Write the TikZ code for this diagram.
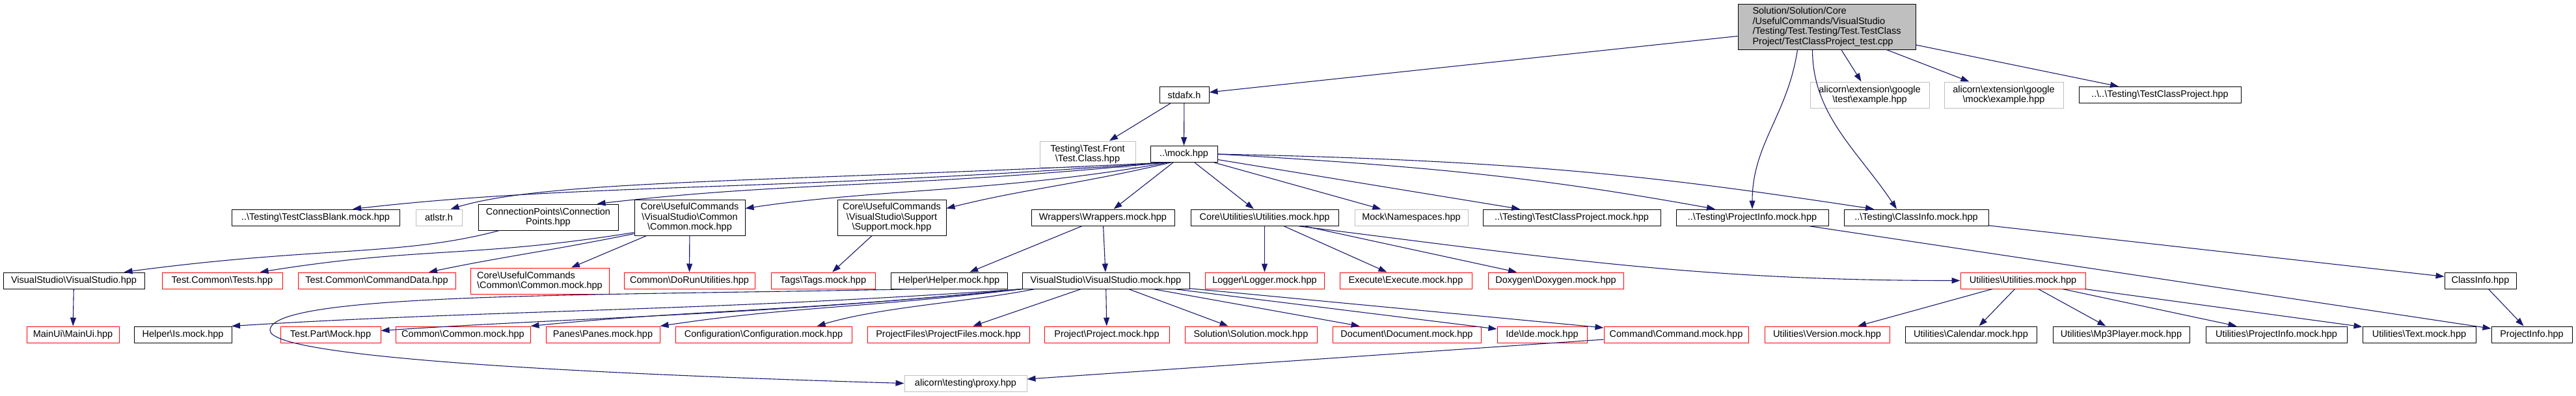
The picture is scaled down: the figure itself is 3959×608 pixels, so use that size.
\documentclass[tikz,border=0pt]{standalone}
\usepackage{fontspec}
\setmainfont{Liberation Sans}
\usetikzlibrary{arrows.meta}
\newcommand{\bs}{\textbackslash}
\begin{document}
\begin{tikzpicture}[x=1pt,y=-1pt,
  file/.style={draw=black,fill=white,line width=1pt,inner sep=0pt,align=center,
    minimum height=25,font=\fontsize{14.5}{15.5}\selectfont},
  redfile/.style={file,draw=fileRed},
  grayfile/.style={file,draw=fileGray},
  wd/.style={minimum width=#1},
  dep/.style={draw=edgeBlue,line width=1.1pt,-{Triangle[length=13pt,width=9pt]}}]
\definecolor{edgeBlue}{HTML}{191970}
\definecolor{fileRed}{HTML}{FF0000}
\definecolor{fileGray}{HTML}{BFBFBF}
\useasboundingbox (0,0) rectangle (3959,608);
\node[file,fill=fileGray,align=left,wd=273,minimum height=70] (root) at (2807.5,41)
  {Solution/Solution/Core\\/UsefulCommands/VisualStudio\\/Testing/Test.Testing/Test.TestClass\\Project/TestClassProject\_test.cpp};
\node[file,wd=76] (stdafx) at (1820,146) {stdafx.h};
\node[grayfile,wd=183,minimum height=40] (gtest) at (2873.5,146) {alicorn\bs extension\bs google\\\bs test\bs example.hpp};
\node[grayfile,wd=183,minimum height=40] (gmock) at (3079.5,146) {alicorn\bs extension\bs google\\\bs mock\bs example.hpp};
\node[file,wd=249] (tcphpp) at (3319.5,146) {..\bs..\bs Testing\bs TestClassProject.hpp};
\node[grayfile,wd=147,minimum height=40] (front) at (1671.5,237) {Testing\bs Test.Front\\\bs Test.Class.hpp};
\node[file,wd=103] (mock) at (1819.5,237) {..\bs mock.hpp};
\node[file,wd=258] (blank) at (485,334.5) {..\bs Testing\bs TestClassBlank.mock.hpp};
\node[grayfile,wd=71] (atlstr) at (674.5,334.5) {atlstr.h};
\node[file,wd=215,minimum height=40] (connpts) at (842.5,334) {ConnectionPoints\bs Connection\\Points.hpp};
\node[file,wd=170,minimum height=55] (vscommon) at (1060,334.5) {Core\bs UsefulCommands\\\bs VisualStudio\bs Common\\\bs Common.mock.hpp};
\node[file,wd=167,minimum height=55] (support) at (1370.5,334.5) {Core\bs UsefulCommands\\\bs VisualStudio\bs Support\\\bs Support.mock.hpp};
\node[file,wd=220] (wrappers) at (1695,334.5) {Wrappers\bs Wrappers.mock.hpp};
\node[file,wd=227] (coreutil) at (1943.5,334.5) {Core\bs Utilities\bs Utilities.mock.hpp};
\node[grayfile,wd=174] (namespaces) at (2169,334.5) {Mock\bs Namespaces.hpp};
\node[file,wd=273] (tcpmock) at (2415.5,334.5) {..\bs Testing\bs TestClassProject.mock.hpp};
\node[file,wd=234] (pimock) at (2693,334.5) {..\bs Testing\bs ProjectInfo.mock.hpp};
\node[file,wd=222] (cimock) at (2945,334.5) {..\bs Testing\bs ClassInfo.mock.hpp};
\node[file,wd=217] (vshpp) at (113.5,431.5) {VisualStudio\bs VisualStudio.hpp};
\node[redfile,wd=185] (tests) at (341.5,431.5) {Test.Common\bs Tests.hpp};
\node[redfile,wd=242] (cmddata) at (579,431.5) {Test.Common\bs CommandData.hpp};
\node[redfile,wd=213,minimum height=40,align=left] (uccommon) at (829.5,432) {Core\bs UsefulCommands\\\bs Common\bs Common.mock.hpp};
\node[redfile,wd=201] (dorun) at (1059.5,431.5) {Common\bs DoRunUtilities.hpp};
\node[redfile,wd=160] (tags) at (1265,431.5) {Tags\bs Tags.mock.hpp};
\node[file,wd=179] (helper) at (1458.5,431.5) {Helper\bs Helper.mock.hpp};
\node[file,wd=257] (vsmock) at (1699.5,431.5) {VisualStudio\bs VisualStudio.mock.hpp};
\node[redfile,wd=183] (logger) at (1943.5,431.5) {Logger\bs Logger.mock.hpp};
\node[redfile,wd=203] (execute) at (2160.5,431.5) {Execute\bs Execute.mock.hpp};
\node[redfile,wd=208] (doxygen) at (2391,431.5) {Doxygen\bs Doxygen.mock.hpp};
\node[redfile,wd=192] (utilmock) at (3109,431.5) {Utilities\bs Utilities.mock.hpp};
\node[file,wd=110] (classinfo) at (3812,431.5) {ClassInfo.hpp};
\node[redfile,wd=142] (mainui) at (112,514.5) {MainUi\bs MainUi.hpp};
\node[file,wd=150] (ismock) at (281,514.5) {Helper\bs Is.mock.hpp};
\node[redfile,wd=154] (testpart) at (508,514.5) {Test.Part\bs Mock.hpp};
\node[redfile,wd=207] (common) at (711.5,514.5) {Common\bs Common.mock.hpp};
\node[redfile,wd=175] (panes) at (926.5,514.5) {Panes\bs Panes.mock.hpp};
\node[redfile,wd=271] (config) at (1173.5,514.5) {Configuration\bs Configuration.mock.hpp};
\node[redfile,wd=249] (projfiles) at (1457.5,514.5) {ProjectFiles\bs ProjectFiles.mock.hpp};
\node[redfile,wd=192] (project) at (1701,514.5) {Project\bs Project.mock.hpp};
\node[redfile,wd=203] (solution) at (1922.5,514.5) {Solution\bs Solution.mock.hpp};
\node[redfile,wd=228] (document) at (2162,514.5) {Document\bs Document.mock.hpp};
\node[redfile,wd=138] (ide) at (2370,514.5) {Ide\bs Ide.mock.hpp};
\node[redfile,wd=222] (command) at (2576,514.5) {Command\bs Command.mock.hpp};
\node[redfile,wd=192] (version) at (2808,514.5) {Utilities\bs Version.mock.hpp};
\node[file,wd=202] (calendar) at (3029,514.5) {Utilities\bs Calendar.mock.hpp};
\node[file,wd=210] (mp3) at (3260,514.5) {Utilities\bs Mp3Player.mock.hpp};
\node[file,wd=217] (uprojinfo) at (3498.5,514.5) {Utilities\bs ProjectInfo.mock.hpp};
\node[file,wd=174] (text) at (3718,514.5) {Utilities\bs Text.mock.hpp};
\node[file,wd=124] (projinfo) at (3891,514.5) {ProjectInfo.hpp};
\node[grayfile,wd=188] (proxy) at (1484,589.5) {alicorn\bs testing\bs proxy.hpp};
\draw[dep] (root) -- (stdafx);
\draw[dep] (root) -- (gtest);
\draw[dep] (root) -- (gmock);
\draw[dep] (root) -- (tcphpp);
\draw[dep] ([xshift=-45]root.south) .. controls +(-15,100) and +(0,-100) .. (pimock.north);
\draw[dep] ([xshift=-22]root.south) .. controls +(0,100) and +(-60,-90) .. ([xshift=-30]cimock.north);
\draw[dep] (stdafx) -- (front);
\draw[dep] (stdafx) -- (mock);
\draw[dep] ([xshift=-30]mock.south) .. controls +(-600,45) and +(350,-40) .. ([xshift=57]blank.north);
\draw[dep] ([xshift=-30]mock.south) .. controls +(-600,30) and +(150,-45) .. ([xshift=18]atlstr.north);
\draw[dep] ([xshift=-30]mock.south) .. controls +(-400,40) and +(300,-35) .. ([xshift=75]connpts.north);
\draw[dep] ([xshift=-25]mock.south) .. controls +(-250,45) and +(200,-30) .. ([yshift=14]vscommon.east);
\draw[dep] ([xshift=-20]mock.south) .. controls +(-150,35) and +(120,-30) .. ([yshift=14]support.east);
\draw[dep] (mock) -- (wrappers);
\draw[dep] (mock) -- (coreutil);
\draw[dep] (mock) -- (namespaces);
\draw[dep] (mock) -- (tcpmock);
\draw[dep] (mock.east) .. controls +(350,20) and +(-250,-45) .. ([xshift=-57]pimock.north);
\draw[dep] (mock.east) .. controls +(500,10) and +(-300,-45) .. ([xshift=-65]cimock.north);
\draw[dep] ([xshift=-75]connpts.south) .. controls +(-150,40) and +(300,-40) .. ([xshift=77]vshpp.north);
\draw[dep] (vshpp) -- (mainui);
\draw[dep] ([yshift=5]vscommon.south west) .. controls +(-250,40) and +(250,-40) .. ([xshift=58]tests.north);
\draw[dep] ([yshift=3]vscommon.south west) .. controls +(-150,30) and +(120,-25) .. ([xshift=80]cmddata.north);
\draw[dep] (vscommon) -- (uccommon);
\draw[dep] (vscommon) -- (dorun);
\draw[dep] (support) -- (tags);
\draw[dep] (wrappers) -- (helper);
\draw[dep] (wrappers) -- (vsmock);
\draw[dep] (coreutil) -- (logger);
\draw[dep] (coreutil) -- (execute);
\draw[dep] (coreutil) -- (doxygen);
\draw[dep] ([xshift=50]coreutil.south) .. controls +(400,50) and +(-400,0) .. (utilmock.west);
\draw[dep] (utilmock) -- (version);
\draw[dep] (utilmock) -- (calendar);
\draw[dep] (utilmock) -- (mp3);
\draw[dep] (utilmock) -- (uprojinfo);
\draw[dep] (utilmock) -- (text);
\draw[dep] (cimock) -- (classinfo);
\draw[dep] (pimock) -- (projinfo);
\draw[dep] (classinfo) -- (projinfo);
\draw[dep] (vsmock.south west) .. controls +(-500,35) and +(400,-25) .. ([xshift=75]ismock.north);
\draw[dep] (vsmock.south west) .. controls +(-400,40) and +(300,-20) .. ([yshift=6]testpart.east);
\draw[dep] (vsmock.south west) .. controls +(-350,35) and +(250,-25) .. (common.north east);
\draw[dep] (vsmock.south west) .. controls +(-250,30) and +(200,-30) .. (panes.north east);
\draw[dep] ([xshift=20]vsmock.south west) .. controls +(-100,20) and +(100,-30) .. ([xshift=82]config.north);
\draw[dep] (vsmock) -- (projfiles);
\draw[dep] (vsmock) -- (project);
\draw[dep] (vsmock) -- (solution);
\draw[dep] (vsmock) -- (document);
\draw[dep] (vsmock) -- (ide);
\draw[dep] (vsmock) -- (command);
\draw[dep] ([xshift=40]helper.south west) .. controls (900,455) and (415,450) .. (415,508)
  .. controls (415,550) and (900,575) .. (proxy.west);
\draw[dep] (command) -- (proxy);
\end{tikzpicture}
\end{document}
